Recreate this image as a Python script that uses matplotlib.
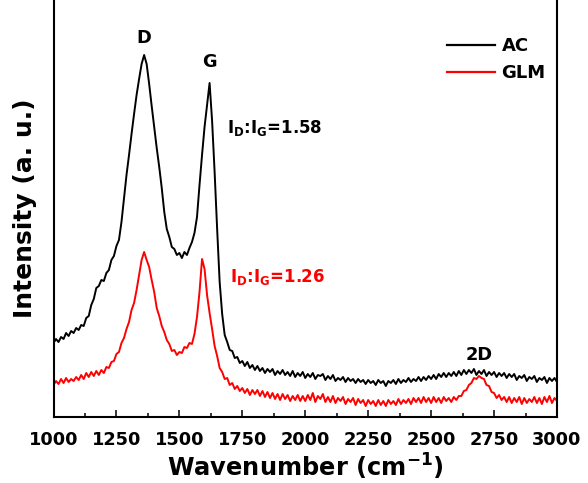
import numpy as np
import matplotlib
matplotlib.use("Agg")
import matplotlib.pyplot as plt

plt.rcParams['font.family'] = ['DejaVu Sans']
plt.rcParams['font.weight'] = 'bold'
plt.rcParams['mathtext.default'] = 'bf'

# Raman shift (cm^-1), 10 cm^-1 steps from 1000 to 3000
wavenumber = list(range(1000, 3001, 10))

# AC spectrum (a. u.)
ac = [
    74, 78, 75, 80, 78, 84, 81, 86, 84, 89,          # 1000-1090
    87, 92, 91, 99, 101, 112, 118, 129, 131, 137,    # 1100-1190
    136, 144, 147, 157, 161, 171, 177, 195, 219, 242,  # 1200-1290
    262, 283, 303, 322, 338, 353, 362, 353, 333, 311,  # 1300-1390
    290, 269, 250, 229, 205, 188, 180, 170, 168, 162,  # 1400-1490
    164, 159, 165, 162, 169, 175, 184, 200, 232, 262,  # 1500-1590
    290, 312, 334, 296, 245, 188, 135, 103, 82, 75,    # 1600-1690
    67, 66, 59, 60, 54, 56, 51, 55, 49, 52,            # 1700-1790
    47, 51, 46, 49, 44, 48, 45, 48, 42, 46,            # 1800-1890
    43, 47, 42, 45, 41, 46, 40, 44, 41, 45,            # 1900-1990
    39, 43, 40, 44, 38, 42, 41, 43, 37, 41,            # 2000-2090
    38, 42, 36, 39, 37, 40, 35, 39, 36, 38,            # 2100-2190
    34, 38, 35, 37, 33, 37, 34, 36, 32, 37,            # 2200-2290
    34, 36, 31, 36, 34, 37, 33, 38, 34, 37,            # 2300-2390
    35, 39, 35, 38, 36, 40, 36, 40, 37, 41,            # 2400-2490
    38, 42, 38, 43, 40, 44, 40, 44, 41, 45,            # 2500-2590
    41, 46, 42, 47, 43, 47, 44, 48, 42, 46,            # 2600-2690
    43, 47, 41, 45, 42, 45, 40, 44, 41, 44,            # 2700-2790
    39, 43, 40, 43, 37, 41, 39, 42, 36, 40,            # 2800-2890
    38, 41, 35, 39, 37, 40, 34, 39, 36, 39,            # 2900-2990
    35,                                                # 3000
]

# GLM spectrum (a. u.)
glm = [
    32, 36, 33, 38, 34, 39, 35, 38, 36, 40,            # 1000-1090
    37, 42, 38, 44, 40, 45, 41, 46, 42, 47,            # 1100-1190
    44, 50, 49, 55, 56, 63, 65, 74, 79, 88,            # 1200-1290
    95, 107, 114, 127, 142, 157, 165, 157, 150, 137,   # 1300-1390
    125, 109, 101, 91, 85, 77, 73, 66, 67, 62,         # 1400-1490
    65, 64, 70, 69, 74, 73, 83, 100, 125, 158,         # 1500-1590
    148, 122, 104, 88, 71, 61, 49, 45, 38, 39,         # 1600-1690
    32, 34, 28, 31, 26, 29, 24, 28, 22, 27,            # 1700-1790
    23, 27, 21, 26, 20, 25, 19, 24, 18, 23,            # 1800-1890
    17, 23, 18, 22, 16, 21, 17, 22, 16, 21,            # 1900-1990
    16, 22, 17, 24, 15, 21, 18, 23, 15, 20,            # 2000-2090
    15, 21, 14, 19, 16, 20, 13, 18, 15, 19,            # 2100-2190
    12, 18, 14, 17, 11, 17, 13, 16, 11, 17,            # 2200-2290
    12, 16, 11, 17, 13, 16, 12, 18, 13, 17,            # 2300-2390
    14, 18, 13, 19, 15, 19, 14, 20, 15, 19,            # 2400-2490
    14, 20, 15, 19, 14, 20, 16, 19, 15, 20,            # 2500-2590
    17, 21, 21, 26, 27, 32, 34, 39, 38, 41,            # 2600-2690
    39, 38, 32, 31, 25, 24, 19, 22, 17, 20,            # 2700-2790
    15, 20, 14, 19, 15, 20, 13, 19, 14, 18,            # 2800-2890
    15, 20, 14, 19, 13, 20, 15, 21, 14, 19,            # 2900-2990
    16,                                                # 3000
]

series_labels = ["AC", "GLM"]
series_colors = ["black", "red"]
xticks = [1000, 1250, 1500, 1750, 2000, 2250, 2500, 2750, 3000]

fig = plt.figure(figsize=(5.88, 4.83), dpi=100)
ax = fig.add_axes([53.5 / 588, 66 / 483, 503.5 / 588, 417 / 483])

ax.plot(wavenumber, ac, color=series_colors[0], lw=1.4, label=series_labels[0])
ax.plot(wavenumber, glm, color=series_colors[1], lw=1.4, label=series_labels[1])

ax.set_xlim(1000, 3000)
ax.set_ylim(0, 417)
ax.set_xticks(xticks)
ax.set_xticks(list(range(1125, 3000, 250)), minor=True)
ax.tick_params(axis='x', which='major', direction='in', length=5, width=1.1,
               labelsize=12.8, pad=10)
ax.tick_params(axis='x', which='minor', direction='in', length=3, width=1.1)
ax.tick_params(axis='x', top=False)
ax.set_yticks([])
for lab in ax.get_xticklabels():
    lab.set_fontweight('bold')

for side in ['left', 'bottom', 'right']:
    ax.spines[side].set_linewidth(1.5)
ax.spines['top'].set_visible(False)

ax.set_xlabel(r'Wavenumber (cm$^{-1}$)', fontsize=17.4, fontweight='bold', labelpad=2)
ax.set_ylabel('Intensity (a. u.)', fontsize=18, fontweight='bold', labelpad=12)

ax.text(1360, 374, 'D', fontsize=12.8, fontweight='bold', ha='center', va='baseline')
ax.text(1620, 350, 'G', fontsize=12.8, fontweight='bold', ha='center', va='baseline')
ax.text(2690, 57, '2D', fontsize=12.8, fontweight='bold', ha='center', va='baseline')
ax.text(1689, 284, r'I$_{D}$:I$_{G}$=1.58', fontsize=12, fontweight='bold',
        ha='left', va='baseline', color='black')
ax.text(1701, 135, r'I$_{D}$:I$_{G}$=1.26', fontsize=12, fontweight='bold',
        ha='left', va='baseline', color='red')

leg = ax.legend(loc='upper left', bbox_to_anchor=(0.7815, 0.911), frameon=False,
                fontsize=13, handlelength=2.67, handletextpad=0.35,
                borderpad=0, borderaxespad=0, labelspacing=0.5)
for line in leg.get_lines():
    line.set_linewidth(1.6)
for t in leg.get_texts():
    t.set_fontweight('bold')

fig.savefig('out.png', dpi=100)
